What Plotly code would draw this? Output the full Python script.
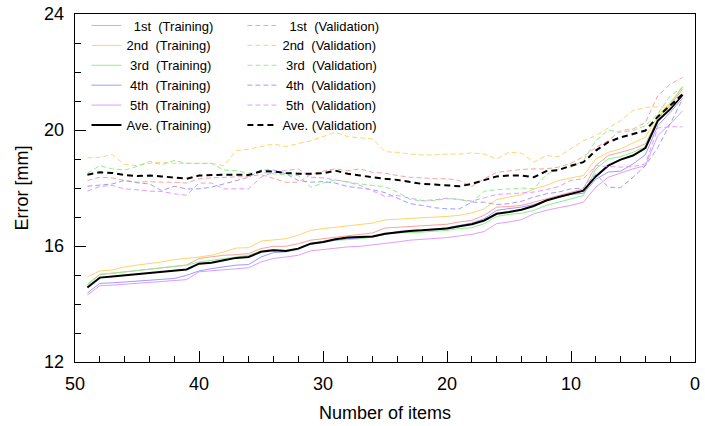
import plotly.graph_objects as go

# x positions (number of items)
items = list(range(49, 0, -1))

# Training errors [mm]
train_1st = [14.68, 15.02, 15.06, 15.10, 15.15, 15.20, 15.25, 15.30, 15.34, 15.57,
             15.62, 15.68, 15.70, 15.74, 15.91, 15.99, 15.99, 16.08, 16.20, 16.25,
             16.31, 16.37, 16.40, 16.45, 16.62, 16.65, 16.68, 16.70, 16.72, 16.75,
             16.83, 16.88, 17.06, 17.34, 17.36, 17.40, 17.51, 17.63, 17.74, 17.86,
             17.97, 18.77, 19.12, 19.23, 19.35, 19.52, 20.38, 20.84, 21.41]
train_2nd = [14.94, 15.14, 15.17, 15.28, 15.34, 15.39, 15.45, 15.53, 15.57, 15.62,
             15.68, 15.79, 15.93, 15.94, 16.17, 16.22, 16.25, 16.37, 16.54, 16.60,
             16.65, 16.71, 16.75, 16.79, 16.90, 16.92, 16.94, 16.96, 16.99, 17.02,
             17.06, 17.14, 17.28, 17.60, 17.69, 17.77, 17.97, 18.09, 18.26, 18.35,
             18.43, 19.00, 19.23, 19.35, 19.54, 19.75, 20.49, 20.95, 21.47]
train_3rd = [14.65, 15.02, 15.06, 15.10, 15.15, 15.20, 15.25, 15.30, 15.34, 15.45,
             15.50, 15.56, 15.62, 15.68, 15.83, 15.88, 15.85, 15.91, 16.08, 16.14,
             16.20, 16.22, 16.25, 16.31, 16.40, 16.45, 16.46, 16.48, 16.51, 16.54,
             16.60, 16.63, 16.77, 17.02, 17.09, 17.13, 17.23, 17.40, 17.51, 17.63,
             17.74, 18.66, 19.00, 19.08, 19.23, 19.43, 20.41, 20.90, 21.49]
train_4th = [14.38, 14.71, 14.73, 14.76, 14.79, 14.81, 14.84, 14.88, 14.99, 15.14,
             15.22, 15.28, 15.34, 15.36, 15.62, 15.77, 15.80, 15.88, 16.06, 16.12,
             16.20, 16.25, 16.28, 16.31, 16.40, 16.50, 16.54, 16.56, 16.58, 16.63,
             16.71, 16.79, 16.94, 17.23, 17.29, 17.34, 17.43, 17.57, 17.69, 17.78,
             17.82, 18.30, 18.55, 18.58, 18.83, 19.15, 20.15, 20.61, 21.10]
train_5th = [14.31, 14.63, 14.65, 14.68, 14.71, 14.73, 14.76, 14.79, 14.84, 15.11,
             15.14, 15.18, 15.22, 15.25, 15.45, 15.57, 15.62, 15.68, 15.83, 15.88,
             15.93, 15.97, 15.99, 16.04, 16.07, 16.14, 16.20, 16.23, 16.25, 16.29,
             16.35, 16.40, 16.50, 16.77, 16.83, 16.91, 17.11, 17.23, 17.32, 17.40,
             17.51, 18.03, 18.37, 18.51, 18.66, 18.77, 19.81, 20.21, 20.66]
train_ave = [14.57, 14.91, 14.95, 14.99, 15.03, 15.06, 15.10, 15.14, 15.19, 15.39,
             15.42, 15.51, 15.59, 15.62, 15.80, 15.85, 15.83, 15.91, 16.08, 16.14,
             16.23, 16.29, 16.31, 16.33, 16.42, 16.48, 16.52, 16.54, 16.56, 16.60,
             16.68, 16.75, 16.88, 17.11, 17.17, 17.25, 17.38, 17.57, 17.69, 17.80,
             17.91, 18.40, 18.77, 18.98, 19.12, 19.38, 20.32, 20.72, 21.21]

# Validation errors [mm]
val_1st = [18.26, 18.37, 18.35, 18.26, 18.20, 18.22, 18.20, 18.20, 18.17, 18.32,
           18.35, 18.37, 18.40, 18.40, 18.46, 18.32, 18.20, 18.20, 18.46, 18.58,
           18.66, 18.60, 18.66, 18.54, 18.51, 18.43, 18.37, 18.35, 18.32, 18.32,
           18.26, 18.05, 18.32, 18.54, 18.60, 18.64, 18.66, 18.66, 18.72, 18.85,
           19.08, 19.40, 19.63, 19.98, 20.03, 20.26, 21.18, 21.58, 21.81]
val_2nd = [19.04, 19.06, 19.15, 18.81, 18.77, 18.85, 18.89, 18.85, 18.85, 18.85,
           18.85, 18.77, 19.29, 19.34, 19.44, 19.52, 19.43, 19.54, 19.63, 19.77,
           19.92, 19.77, 19.72, 19.69, 19.25, 19.23, 19.17, 19.14, 19.14, 19.17,
           19.17, 19.21, 19.17, 19.00, 19.23, 19.20, 18.89, 19.12, 19.08, 19.35,
           19.63, 19.81, 20.07, 20.32, 20.67, 20.78, 20.80, 20.78, 21.25]
val_3rd = [18.51, 18.77, 18.66, 18.62, 18.74, 18.92, 18.80, 18.95, 18.85, 18.85,
           18.85, 18.62, 18.60, 18.51, 18.54, 18.49, 18.46, 18.43, 18.03, 18.17,
           18.28, 18.20, 18.14, 18.09, 18.04, 17.86, 17.61, 17.55, 17.57, 17.63,
           17.61, 17.51, 17.89, 17.94, 17.97, 18.00, 17.97, 18.46, 18.66, 18.72,
           18.94, 19.63, 20.00, 19.92, 19.98, 20.15, 20.55, 21.18, 21.47]
val_4th = [18.06, 18.09, 18.14, 18.26, 18.18, 18.14, 17.91, 18.06, 17.97, 17.97,
           18.03, 18.14, 18.26, 18.37, 18.62, 18.62, 18.49, 18.26, 18.20, 18.22,
           18.17, 18.05, 18.00, 17.94, 17.84, 17.66, 17.46, 17.40, 17.32, 17.28,
           17.28, 17.51, 17.51, 17.43, 17.46, 17.54, 17.69, 17.80, 17.86, 17.97,
           18.00, 18.49, 18.03, 18.01, 18.37, 18.77, 19.40, 20.21, 21.07]
val_5th = [17.89, 18.05, 18.09, 17.97, 17.94, 17.89, 17.88, 17.80, 17.75, 18.17,
           18.17, 17.97, 17.97, 17.97, 18.37, 18.54, 18.60, 18.66, 18.37, 18.35,
           18.28, 18.20, 18.09, 17.91, 17.71, 17.74, 17.66, 17.57, 17.59, 17.65,
           17.60, 17.55, 17.66, 17.78, 17.80, 17.82, 17.86, 17.94, 18.05, 18.26,
           18.32, 18.77, 18.74, 18.72, 18.74, 18.83, 20.07, 20.11, 20.11]
val_ave = [18.46, 18.54, 18.52, 18.45, 18.41, 18.43, 18.40, 18.37, 18.32, 18.43,
           18.45, 18.46, 18.46, 18.45, 18.58, 18.57, 18.52, 18.49, 18.49, 18.51,
           18.60, 18.49, 18.43, 18.37, 18.32, 18.28, 18.20, 18.14, 18.12, 18.09,
           18.06, 18.14, 18.28, 18.40, 18.43, 18.43, 18.37, 18.58, 18.62, 18.77,
           18.89, 19.29, 19.58, 19.75, 19.86, 19.98, 20.46, 20.84, 21.24]

NB = "\u00a0"
train_names = [NB * 2 + "1st" + NB * 2 + "(Training)", "2nd" + NB * 2 + "(Training)",
               NB + "3rd" + NB * 2 + "(Training)", NB + "4th" + NB * 2 + "(Training)",
               NB + "5th" + NB * 2 + "(Training)", "Ave." + NB + "(Training)"]
val_names = [NB * 2 + "1st" + NB * 2 + "(Validation)", "2nd" + NB * 2 + "(Validation)",
             NB + "3rd" + NB * 2 + "(Validation)", NB + "4th" + NB * 2 + "(Validation)",
             NB + "5th" + NB * 2 + "(Validation)", "Ave." + NB + "(Validation)"]

colors = ["#ff9f9f", "#ffd36e", "#8eef8e", "#9c9cff", "#e09cff", "#000000"]
train_sets = [train_1st, train_2nd, train_3rd, train_4th, train_5th, train_ave]
val_sets = [val_1st, val_2nd, val_3rd, val_4th, val_5th, val_ave]

fig = go.Figure()
for name, ys, c in zip(train_names, train_sets, colors):
    fig.add_trace(go.Scatter(x=items, y=ys, mode="lines", name=name, legend="legend",
                             line=dict(color=c, width=2 if c == "#000000" else 1)))
for name, ys, c in zip(val_names, val_sets, colors):
    black = c == "#000000"
    fig.add_trace(go.Scatter(x=items, y=ys, mode="lines", name=name, legend="legend2",
                             line=dict(color=c, width=2 if black else 1,
                                       dash="6px,4px" if black else "5px,3px")))

font_family = "Arial, Liberation Sans, sans-serif"
axis_common = dict(showline=True, linecolor="black", linewidth=1.3, mirror=True,
                   ticks="inside", tickcolor="black", tickwidth=1, showgrid=False,
                   zeroline=False, automargin=False, ticklabeloverflow="allow",
                   tickfont=dict(size=18, color="black"))

fig.update_layout(
    width=705, height=426,
    margin=dict(l=75, r=10, t=14, b=64, autoexpand=False),
    paper_bgcolor="white", plot_bgcolor="white",
    font=dict(family=font_family, color="black"),
    xaxis=dict(range=[50, 0], tickmode="linear", tick0=0, dtick=10, ticklen=11,
               minor=dict(dtick=2, tick0=0, ticklen=6, ticks="inside", tickcolor="black"),
               ticklabelstandoff=5,
               title=dict(text="Number of items", font=dict(size=18), standoff=13),
               **axis_common),
    yaxis=dict(range=[12, 24], tickmode="linear", tick0=12, dtick=4, ticklen=11,
               minor=dict(dtick=1, tick0=12, ticklen=6, ticks="inside", tickcolor="black"),
               ticklabelstandoff=6,
               title=dict(text="Error [mm]", font=dict(size=18), standoff=10),
               **axis_common),
    legend=dict(x=0.0185, y=1.01, xanchor="left", yanchor="top", bgcolor="rgba(0,0,0,0)",
                font=dict(size=13, family=font_family), tracegroupgap=0),
    legend2=dict(x=0.270, y=1.01, xanchor="left", yanchor="top", bgcolor="rgba(0,0,0,0)",
                 font=dict(size=13, family=font_family), tracegroupgap=0),
    hovermode=False,
)

# remove the default page margin so the figure sits at the window's top-left corner
fig.write_html("out.html", config={"displayModeBar": False, "staticPlot": True},
               post_script="document.body.style.margin='0';")
